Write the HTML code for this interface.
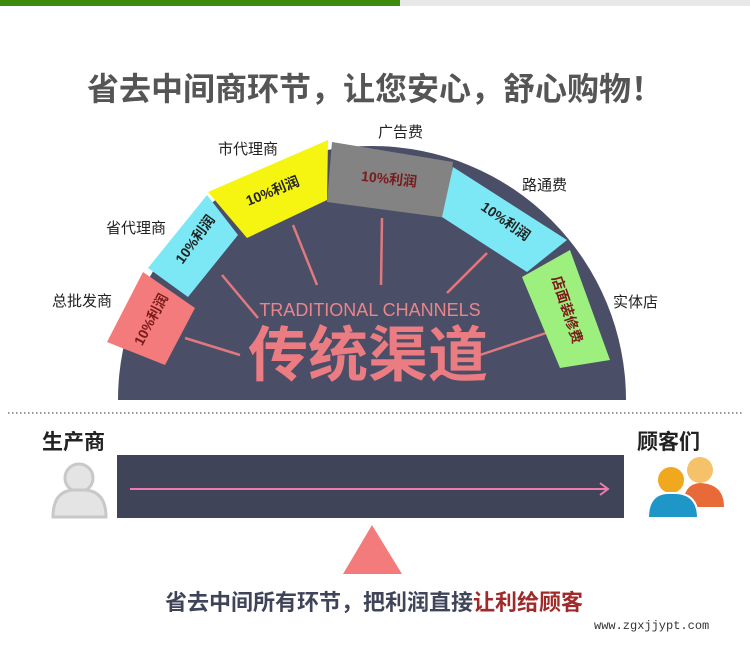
<!DOCTYPE html>
<html><head><meta charset="utf-8"><style>
html,body{margin:0;padding:0;background:#fff;}
body{width:750px;height:648px;position:relative;overflow:hidden;font-family:"Liberation Sans","Noto Sans CJK SC",sans-serif;}
.t{position:absolute;white-space:nowrap;}
</style></head><body>
<div style="position:absolute;left:0;top:0;width:400px;height:6px;background:#3d8a0c"></div>
<div style="position:absolute;left:400px;top:0;width:350px;height:6px;background:#e8e8e8"></div>
<div class="t" style="left:0;width:750px;text-align:center;top:64px;font-size:32px;font-weight:bold;color:#555;letter-spacing:0px">省去中间商环节，让您安心，舒心购物！</div>
<svg width="750" height="648" style="position:absolute;left:0;top:0">
<path d="M118 400 A254 254 0 0 1 626 400 Z" fill="#4a4e66"/>
<g stroke="#e0797f" stroke-width="2.5">
<line x1="185" y1="338" x2="240" y2="355"/>
<line x1="222" y1="275" x2="258" y2="318"/>
<line x1="293" y1="225" x2="317" y2="285"/>
<line x1="382" y1="218" x2="381" y2="285"/>
<line x1="487" y1="253" x2="447" y2="293"/>
<line x1="555" y1="330" x2="480" y2="355"/>
</g>
<polygon points="107,342 143,272 195,308 165,365" fill="#f47b7b"/>
<polygon points="148,268 207,195 238,235 188,297" fill="#7de8f5"/>
<polygon points="208,192 328,140 327,200 247,238" fill="#f6f511"/>
<polygon points="332,142 453,162 447,218 327,202" fill="#838383"/>
<polygon points="453,167 567,240 527,272 442,217" fill="#7de8f5"/>
<polygon points="522,277 570,250 610,360 560,368" fill="#9df07e"/>
<g font-family="Liberation Sans,Noto Sans CJK SC,sans-serif" font-weight="bold" font-size="14" fill="#7a1a1a">
<text x="0" y="0" transform="translate(152,320) rotate(-62)" text-anchor="middle" dominant-baseline="middle">10%利润</text>
<text x="0" y="0" transform="translate(196,240) rotate(-54)" text-anchor="middle" dominant-baseline="middle" fill="#222">10%利润</text>
<text x="0" y="0" transform="translate(273,192) rotate(-22)" text-anchor="middle" dominant-baseline="middle" fill="#222">10%利润</text>
<text x="0" y="0" transform="translate(389,180) rotate(6)" text-anchor="middle" dominant-baseline="middle">10%利润</text>
<text x="0" y="0" transform="translate(505,222) rotate(35)" text-anchor="middle" dominant-baseline="middle" fill="#222">10%利润</text>
<text x="0" y="0" transform="translate(566,310) rotate(72)" text-anchor="middle" dominant-baseline="middle">店面装修费</text>
</g>
<text x="370" y="316" text-anchor="middle" font-size="18" fill="#e8868c" font-family="Liberation Sans,sans-serif">TRADITIONAL CHANNELS</text>
<text x="368" y="376" text-anchor="middle" font-size="60" font-weight="bold" fill="#eb7c82" font-family="Liberation Sans,Noto Sans CJK SC,sans-serif">传统渠道</text>
<line x1="8" y1="413" x2="742" y2="413" stroke="#777" stroke-width="1.5" stroke-dasharray="1.5,2.5"/>
<rect x="117" y="455" width="507" height="63" fill="#3f4459"/>
<line x1="130" y1="489" x2="607" y2="489" stroke="#f07ab0" stroke-width="2"/>
<polyline points="600,483 608,489 600,495" fill="none" stroke="#f07ab0" stroke-width="2"/>
<circle cx="79" cy="478" r="14" fill="#e4e4e4" stroke="#c8c8c8" stroke-width="3"/>
<path d="M53 517 Q53 492 72 490 L86 490 Q106 492 106 517 Z" fill="#e4e4e4" stroke="#c8c8c8" stroke-width="3"/>
<circle cx="700" cy="470" r="13" fill="#f5c26a"/>
<path d="M683 507 Q683 484 700 483 Q724 484 724 507 Z" fill="#e86a38"/>
<circle cx="671" cy="480" r="14" fill="#f0a81f" stroke="#fff" stroke-width="2"/>
<path d="M648 518 Q648 494 667 493 L676 493 Q698 494 698 518 Z" fill="#1e96c8" stroke="#fff" stroke-width="2"/>
<polygon points="372,525 343,574 402,574" fill="#f47b7b"/>
</svg>
<div class="t" style="left:52px;top:290px;font-size:15px;color:#222">总批发商</div>
<div class="t" style="left:106px;top:217px;font-size:15px;color:#222">省代理商</div>
<div class="t" style="left:218px;top:138px;font-size:15px;color:#222">市代理商</div>
<div class="t" style="left:378px;top:121px;font-size:15px;color:#222">广告费</div>
<div class="t" style="left:522px;top:174px;font-size:15px;color:#222">路通费</div>
<div class="t" style="left:613px;top:291px;font-size:15px;color:#222">实体店</div>
<div class="t" style="left:42px;top:426px;font-size:21px;font-weight:bold;color:#222">生产商</div>
<div class="t" style="left:637px;top:426px;font-size:21px;font-weight:bold;color:#222">顾客们</div>
<div class="t" style="left:165px;width:440px;text-align:left;top:585px;font-size:22px;font-weight:bold;color:#3f4459">省去中间所有环节，把利润直接<span style="color:#a02a2a">让利给顾客</span></div>
<div class="t" style="left:594px;top:619px;font-size:12px;color:#333;font-family:'Liberation Mono',monospace">www.zgxjjypt.com</div>
</body></html>
